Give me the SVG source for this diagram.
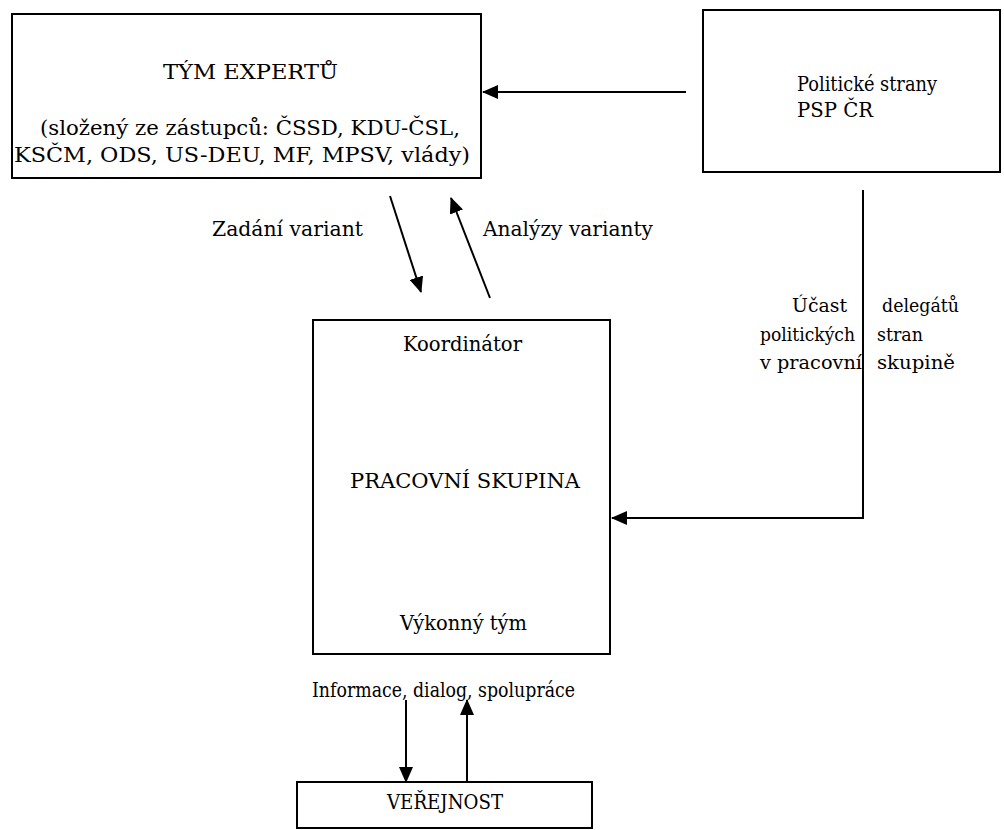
<svg xmlns="http://www.w3.org/2000/svg" width="1004" height="830" viewBox="0 0 1004 830">
<style>
.box{fill:#fff;stroke:#000;stroke-width:2}
.ln{fill:none;stroke:#000;stroke-width:2}
text{font-family:'DejaVu Serif','Liberation Serif',serif;fill:#000}
</style>
<defs>
<marker id="ah" markerWidth="16" markerHeight="14" refX="15" refY="7" orient="auto" markerUnits="userSpaceOnUse">
<path d="M0,0 L16,7 L0,14 Z" fill="#000"/>
</marker>
</defs>
<rect width="1004" height="830" fill="#fff"/>
<g id="tym-expertu">
<rect class="box" x="12" y="14" width="469" height="164"/>
<text font-size="21" x="163" y="79" textLength="175" lengthAdjust="spacingAndGlyphs">TÝM EXPERTŮ</text>
<text font-size="21" x="40" y="135" textLength="420" lengthAdjust="spacingAndGlyphs">(složený ze zástupců: ČSSD, KDU-ČSL,</text>
<text font-size="21" x="14" y="162" textLength="456" lengthAdjust="spacingAndGlyphs">KSČM, ODS, US-DEU, MF, MPSV, vlády)</text>
</g>
<g id="politicke-strany">
<rect class="box" x="703" y="10" width="297" height="162"/>
<text font-size="20" x="797" y="91" textLength="140" lengthAdjust="spacingAndGlyphs">Politické strany</text>
<text font-size="20" x="797" y="117" textLength="76" lengthAdjust="spacingAndGlyphs">PSP ČR</text>
</g>
<g id="pracovni-skupina">
<rect class="box" x="313" y="320" width="297" height="334"/>
<text font-size="21" x="403" y="351" textLength="119" lengthAdjust="spacingAndGlyphs">Koordinátor</text>
<text font-size="21" x="350" y="488" textLength="230" lengthAdjust="spacingAndGlyphs">PRACOVNÍ SKUPINA</text>
<text font-size="21" x="400" y="630" textLength="127" lengthAdjust="spacingAndGlyphs">Výkonný tým</text>
</g>
<g id="verejnost">
<rect class="box" x="297" y="782" width="295" height="46"/>
<text font-size="20" x="387" y="809" textLength="116" lengthAdjust="spacingAndGlyphs">VEŘEJNOST</text>
</g>
<g id="connectors">
<line class="ln" x1="686" y1="92" x2="483" y2="92" marker-end="url(#ah)"/>
<line class="ln" x1="390" y1="196" x2="421" y2="292" marker-end="url(#ah)"/>
<line class="ln" x1="490" y1="298" x2="451" y2="198" marker-end="url(#ah)"/>
<polyline class="ln" points="863,190 863,518 612,518" marker-end="url(#ah)"/>
<line class="ln" x1="406" y1="700" x2="406" y2="782" marker-end="url(#ah)"/>
<line class="ln" x1="467" y1="782" x2="467" y2="700" marker-end="url(#ah)"/>
</g>
<g id="labels">
<text font-size="21" x="212" y="236" textLength="151" lengthAdjust="spacingAndGlyphs">Zadání variant</text>
<text font-size="21" x="483" y="236" textLength="170" lengthAdjust="spacingAndGlyphs">Analýzy varianty</text>
<text font-size="19" x="792" y="312" textLength="55" lengthAdjust="spacingAndGlyphs">Účast</text>
<text font-size="19" x="882" y="312" textLength="77" lengthAdjust="spacingAndGlyphs">delegátů</text>
<text font-size="19" x="760" y="341" textLength="95" lengthAdjust="spacingAndGlyphs">politických</text>
<text font-size="19" x="877" y="341" textLength="46" lengthAdjust="spacingAndGlyphs">stran</text>
<text font-size="19" x="760" y="369" textLength="102" lengthAdjust="spacingAndGlyphs">v pracovní</text>
<text font-size="19" x="877" y="369" textLength="78" lengthAdjust="spacingAndGlyphs">skupině</text>
<text font-size="21" x="312" y="697" textLength="263" lengthAdjust="spacingAndGlyphs">Informace, dialog, spolupráce</text>
</g>
</svg>
